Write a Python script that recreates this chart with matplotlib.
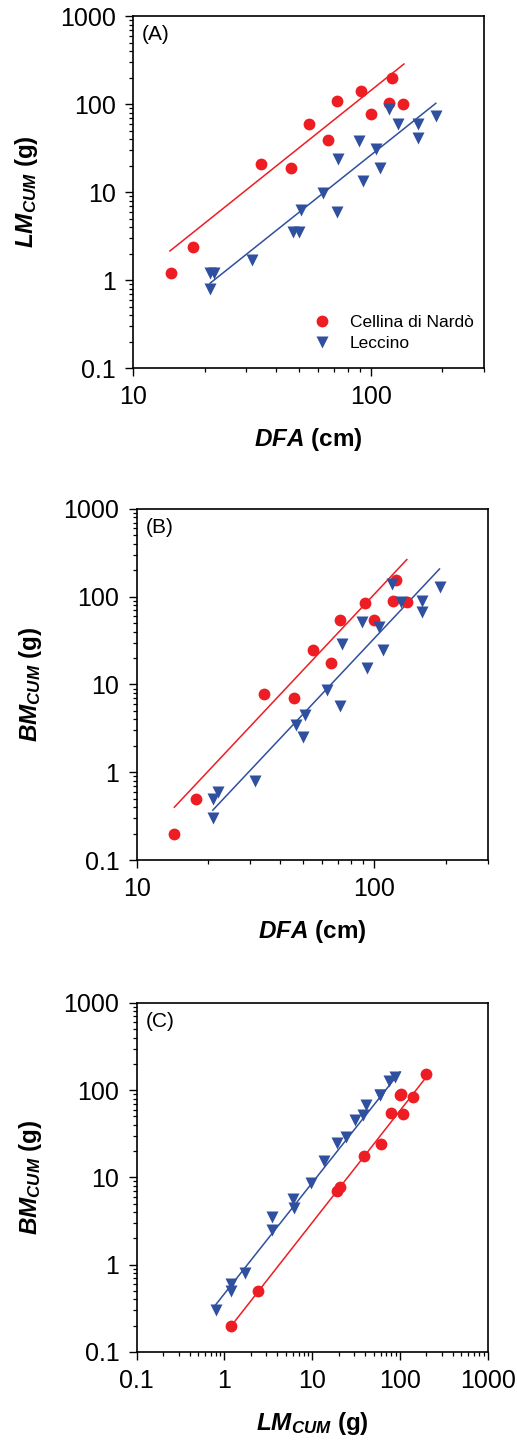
import matplotlib
matplotlib.use("Agg")
import matplotlib.pyplot as plt
from matplotlib.ticker import LogLocator, FuncFormatter
import numpy as np

plt.rcParams['font.family'] = ['Liberation Sans', 'DejaVu Sans']
plt.rcParams['mathtext.fontset'] = 'custom'
plt.rcParams['mathtext.it'] = 'Liberation Sans:italic:bold'
plt.rcParams['mathtext.rm'] = 'Liberation Sans:bold'

# Cellina di Nardò (red circles)
cn_dfa = [14.4, 17.8, 34.4, 46, 55, 66, 72, 91, 100, 120, 123, 137]
cn_lm = [1.2, 2.4, 21, 19, 60, 39, 109, 142, 78, 102, 200, 100]
cn_bm = [0.2, 0.5, 7.7, 7.0, 24.5, 17.5, 54, 84, 55, 90, 154, 87]

# Leccino (blue triangles)
le_dfa = [21, 21, 22, 31.6, 47, 50, 51, 63, 72, 73, 89, 93, 105, 109, 119, 130, 158, 158, 188]
le_lm = [0.8, 1.2, 1.2, 1.7, 3.5, 3.5, 6.2, 9.7, 6.0, 24, 38, 13.5, 31, 19, 88, 59, 59, 41, 74]
le_bm = [0.3, 0.5, 0.6, 0.8, 3.5, 2.5, 4.5, 8.7, 5.7, 29, 52, 15.5, 45, 25, 141, 87, 89, 67, 129]

# fitted power lines, read as end points (x, y) off the picture
cn_fit_a = ([14.3, 138], [2.14, 285])
le_fit_a = ([21.1, 188], [0.92, 102])
cn_fit_b = ([14.4, 137], [0.40, 265])
le_fit_b = ([20.9, 188], [0.37, 207])
cn_fit_c = ([1.2, 200], [0.20, 142])
le_fit_c = ([0.79, 100], [0.345, 162])

red = '#ee1d23'
blue = '#2f4f9f'

fig = plt.figure(figsize=(5.17, 14.45), dpi=100)
ax_a = fig.add_axes([0.2573, 0.7453, 0.679, 0.2436])
ax_b = fig.add_axes([0.2644, 0.4048, 0.679, 0.2430])
ax_c = fig.add_axes([0.2644, 0.0644, 0.679, 0.2415])


def fmt(v, pos):
    return f"{v:g}"


def style(ax, xlim, letter, xlabel, ylabel):
    ax.set_xscale('log')
    ax.set_yscale('log')
    ax.set_xlim(*xlim)
    ax.set_ylim(0.1, 1000)
    for s in ax.spines.values():
        s.set_linewidth(1.2)
    ax.xaxis.set_major_locator(LogLocator(base=10, numticks=10))
    ax.yaxis.set_major_locator(LogLocator(base=10, numticks=10))
    ax.xaxis.set_minor_locator(LogLocator(base=10, subs=np.arange(2, 10), numticks=20))
    ax.yaxis.set_minor_locator(LogLocator(base=10, subs=np.arange(2, 10), numticks=20))
    ax.xaxis.set_major_formatter(FuncFormatter(fmt))
    ax.yaxis.set_major_formatter(FuncFormatter(fmt))
    ax.xaxis.set_minor_formatter(FuncFormatter(lambda v, p: ""))
    ax.tick_params(which='major', direction='out', length=5.5, width=1.0, labelsize=18)
    ax.tick_params(which='minor', direction='out', length=3.2, width=0.9)
    ax.tick_params(axis='y', which='major', pad=7)
    ax.tick_params(axis='x', which='major', pad=7)
    ax.text(0.025, 0.975, letter, transform=ax.transAxes, ha='left', va='top', fontsize=15)
    ax.set_xlabel(xlabel, fontsize=17.5, fontweight='bold', labelpad=12)
    ax.set_ylabel(ylabel, fontsize=17.5, fontweight='bold', labelpad=14)


lm_label = r'$LM_{CUM}$ (g)'
bm_label = r'$BM_{CUM}$ (g)'
dfa_label = r'$DFA$ (cm)'

# (A) LM vs DFA
ax_a.plot(*cn_fit_a, color=red, lw=1.1)
ax_a.plot(*le_fit_a, color=blue, lw=1.1)
ax_a.plot(cn_dfa, cn_lm, 'o', color=red, ms=8.5, mec='none', label='Cellina di Nardò')
ax_a.plot(le_dfa, le_lm, 'v', color=blue, ms=8.5, mec='none', label='Leccino')
style(ax_a, (10, 300), '(A)', dfa_label, lm_label)
ax_a.legend(loc='lower right', bbox_to_anchor=(1.0, 0.02), frameon=False, fontsize=12.5,
            numpoints=1, handletextpad=0.6, labelspacing=0.3, borderaxespad=0.2)

# (B) BM vs DFA
ax_b.plot(*cn_fit_b, color=red, lw=1.1)
ax_b.plot(*le_fit_b, color=blue, lw=1.1)
ax_b.plot(cn_dfa, cn_bm, 'o', color=red, ms=8.5, mec='none')
ax_b.plot(le_dfa, le_bm, 'v', color=blue, ms=8.5, mec='none')
style(ax_b, (10, 300), '(B)', dfa_label, bm_label)

# (C) BM vs LM
ax_c.plot(*cn_fit_c, color=red, lw=1.1)
ax_c.plot(*le_fit_c, color=blue, lw=1.1)
ax_c.plot(cn_lm, cn_bm, 'o', color=red, ms=8.5, mec='none')
ax_c.plot(le_lm, le_bm, 'v', color=blue, ms=8.5, mec='none')
style(ax_c, (0.1, 1000), '(C)', lm_label, bm_label)

fig.savefig("out.png", dpi=100)
